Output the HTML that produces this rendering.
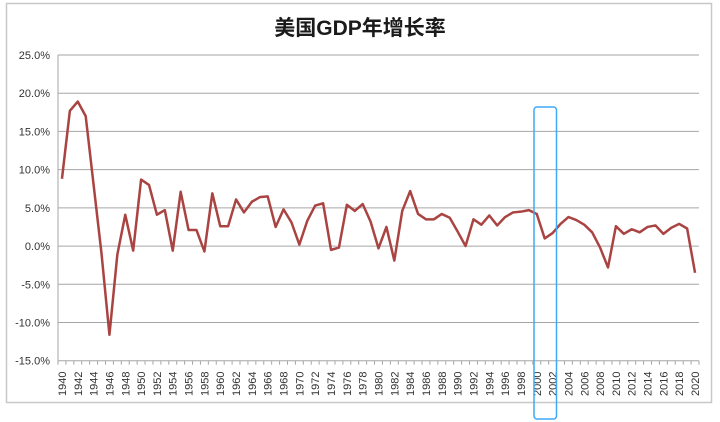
<!DOCTYPE html>
<html><head><meta charset="utf-8"><style>
body{margin:0;background:#fff;}
svg{display:block;font-family:"Liberation Sans","Noto Sans CJK SC",sans-serif;}
</style></head><body>
<svg id="c" width="720" height="422">
<rect x="6.5" y="3.5" width="705" height="399" fill="#fff" stroke="#c8c8c8" stroke-width="1.5"/>
<text x="360" y="35" text-anchor="middle" font-size="21" font-weight="bold" fill="#1a1a1a">美国GDP年增长率</text>
<g id="grid"></g><g id="yt"></g><g id="xt"></g><g id="ser"></g>
<rect x="534" y="107" width="22.5" height="312" rx="3" fill="none" stroke="#3fa9f5" stroke-width="1.5"/>
</svg>
<script>
const years=[];for(let y=1940;y<=2020;y++)years.push(y);
const growth=[8.8,17.7,18.9,17.0,8.0,-1.0,-11.6,-1.1,4.1,-0.6,8.7,8.0,4.1,4.7,-0.6,7.1,2.1,2.1,-0.7,6.9,2.6,2.6,6.1,4.4,5.8,6.4,6.5,2.5,4.8,3.1,0.2,3.3,5.3,5.6,-0.5,-0.2,5.4,4.6,5.5,3.2,-0.3,2.5,-1.9,4.6,7.2,4.2,3.5,3.5,4.2,3.7,1.9,0.0,3.5,2.8,4.0,2.7,3.8,4.4,4.5,4.7,4.2,1.0,1.7,2.9,3.8,3.4,2.8,1.8,-0.2,-2.8,2.6,1.6,2.2,1.8,2.5,2.7,1.6,2.4,2.9,2.3,-3.5];
const yTicks=[25,20,15,10,5,0,-5,-10,-15];
const x0=58,x1=699,yTop=55,yBot=360.7;
const bw=(x1-x0)/years.length;
const X=i=>x0+bw*(i+0.5);
const Y=v=>yTop+(25-v)/40*(yBot-yTop);
const NS="http://www.w3.org/2000/svg";
function mk(t,a,p){const e=document.createElementNS(NS,t);for(const k in a)e.setAttribute(k,a[k]);p.appendChild(e);return e;}
const g=document.getElementById('grid'),yt=document.getElementById('yt'),xt=document.getElementById('xt'),ser=document.getElementById('ser');
yTicks.forEach(v=>{
 const l=mk('line',{x1:x0,x2:x1,y1:Y(v),y2:Y(v),stroke:'#a6a6a6','stroke-width':1},g);
 
 
 const t=mk('text',{x:x0-8,y:Y(v)+4,'text-anchor':'end','font-size':11,fill:'#333'},yt);
 t.textContent=v.toFixed(1)+'%';
 
 
});
const ax=mk('line',{x1:x0,x2:x0,y1:yTop,y2:yBot,stroke:'#a6a6a6'},g);


for(let i=0;i<=years.length;i++){
 const tk=mk('line',{x1:x0+bw*i,x2:x0+bw*i,y1:yBot,y2:yBot+4,stroke:'#a6a6a6'},xt);
 
 
}
years.forEach((yr,i)=>{
 if(i%2)return;
 const t=mk('text',{transform:`translate(${X(i)+4},${396}) rotate(-90)`,'font-size':11,fill:'#333'},xt);
 t.textContent=yr;
 
 
});
const p=mk('polyline',{points:growth.map((v,i)=>X(i)+','+Y(v)).join(' '),fill:'none',stroke:'#a94442','stroke-width':2.5,'stroke-linejoin':'round'},ser);


</script>
</body></html>
